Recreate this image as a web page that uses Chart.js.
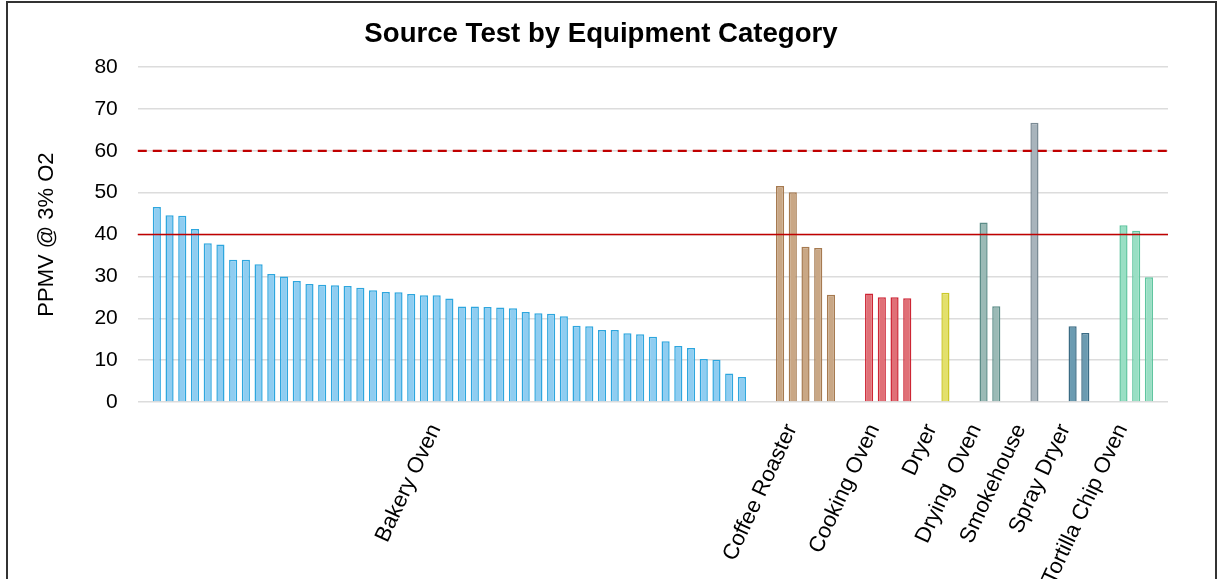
<!DOCTYPE html>
<html><head><meta charset="utf-8">
<script src="https://cdn.jsdelivr.net/npm/chart.js@4.4.1/dist/chart.umd.min.js"></script>
<style>
html,body{margin:0;padding:0;background:#fff;overflow:hidden;}
#wrap{position:absolute;left:0;top:0;width:1220px;height:579px;}
#frame{position:absolute;left:6px;top:1px;width:1211px;height:640px;border:2px solid #333;pointer-events:none;box-sizing:border-box;}
</style></head><body>
<div id="wrap"><canvas id="c" width="1220" height="579"></canvas></div>
<div id="frame"></div>
<script>
// ---- data ----
const categories = ['Bakery Oven','Coffee Roaster','Cooking Oven','Dryer','Drying  Oven','Smokehouse','Spray Dryer','Tortilla Chip Oven'];
const bakeryOven = [46.6,44.6,44.5,41.3,37.9,37.6,34.0,34.0,32.9,30.6,30.0,28.9,28.2,28.0,27.9,27.7,27.3,26.7,26.3,26.2,25.8,25.5,25.5,24.7,22.8,22.8,22.7,22.6,22.4,21.5,21.2,21.1,20.5,18.2,18.1,17.2,17.2,16.4,16.2,15.6,14.5,13.4,12.9,10.3,10.1,6.8,6.0];
const coffeeRoaster = [51.6,50.1,37.1,36.8,25.6];
const cookingOven = [25.9,25.0,25.0,24.8];
const dryer = [26.1];
const dryingOven = [42.9,22.9];
const smokehouse = [66.7];
const sprayDryer = [18.1,16.5];
const tortillaChipOven = [42.2,40.9,29.8];
const yTickValues = [0,10,20,30,40,50,60,70,80];
const limitSolid = 40;
const limitDashed = 60;

const seriesByCategory = [bakeryOven,coffeeRoaster,cookingOven,dryer,dryingOven,smokehouse,sprayDryer,tortillaChipOven];
const fillColors = ['#8fcdf1','#c9a785','#e07077','#e3e06c','#9bbab6','#a8b4bc','#6b9bb1','#99dfc4'];
const borderColors = ['#2ea6de','#a67a50','#cd2534','#cbc828','#5b8c87','#7a8a94','#3a6b84','#5fc59f'];

// ---- build slot table (one leading empty slot, two between groups, one trailing) ----
const labels = [], values = [], fills = [], borders = [], groupCenters = [];
function addGap(){ labels.push(''); values.push(null); fills.push('rgba(0,0,0,0)'); borders.push('rgba(0,0,0,0)'); }
addGap();
seriesByCategory.forEach((arr, g) => {
  const start = labels.length;
  arr.forEach(v => { labels.push(categories[g]); values.push(v); fills.push(fillColors[g]); borders.push(borderColors[g]); });
  groupCenters.push((start + labels.length - 1) / 2);
  if (g < seriesByCategory.length - 1) { addGap(); addGap(); }
});
addGap();
const nSlots = labels.length;

Chart.defaults.font.family = "'Liberation Sans', Arial, sans-serif";
Chart.defaults.color = '#000';

// limit lines drawn through the y scale
const limitLines = {
  id: 'limitLines',
  afterDatasetsDraw(chart) {
    const { ctx, chartArea: a, scales: { y } } = chart;
    const drawAt = (val, color, width, dash) => {
      const py = y.getPixelForValue(val);
      ctx.save();
      ctx.strokeStyle = color; ctx.lineWidth = width; ctx.setLineDash(dash);
      ctx.beginPath(); ctx.moveTo(a.left, py); ctx.lineTo(a.right, py); ctx.stroke();
      ctx.restore();
    };
    drawAt(limitSolid, '#c00000', 1.6, []);
    drawAt(limitDashed, '#c00000', 2.2, [9, 6]);
  }
};

new Chart(document.getElementById('c'), {
  type: 'bar',
  data: {
    labels: labels,
    datasets: [
      { data: values, backgroundColor: fills, borderColor: borders, borderWidth: 1.5,
        barPercentage: 0.64, categoryPercentage: 1, grouped: false, xAxisID: 'x', yAxisID: 'y' }
    ]
  },
  plugins: [limitLines],
  options: {
    responsive: false, animation: false, devicePixelRatio: 1,
    layout: { padding: { left: 34, right: 52, top: 18, bottom: 0 } },
    plugins: {
      legend: { display: false }, tooltip: { enabled: false },
      title: { display: true, text: 'Source Test by Equipment Category', color: '#000',
        font: { size: 27.6, weight: 'bold' }, padding: { top: 0, bottom: 16 } }
    },
    scales: {
      x: { type: 'category', display: false, offset: true },
      x2: { type: 'linear', position: 'bottom', offset: false, min: -0.5, max: nSlots - 0.5,
        grid: { display: false, offset: false }, border: { display: false },
        afterBuildTicks: s => { s.ticks = groupCenters.map(v => ({ value: v })); },
        afterFit: s => { s.height = 177; },
        ticks: { autoSkip: false, minRotation: 65, maxRotation: 65, padding: 10, labelOffset: -14, color: '#000',
          font: { size: 22 }, callback: (v, i) => categories[i] } },
      y: { min: 0, max: 80,
        afterBuildTicks: s => { s.ticks = yTickValues.map(v => ({ value: v })); },
        ticks: { padding: 20, color: '#000', font: { size: 21 } },
        grid: { color: '#dcdcdc', lineWidth: 1.5, drawTicks: false },
        border: { display: false },
        title: { display: true, text: 'PPMV @ 3% O2', color: '#000', font: { size: 22 }, padding: { top: 0, bottom: 14 } } }
    }
  }
});
</script>
</body></html>
